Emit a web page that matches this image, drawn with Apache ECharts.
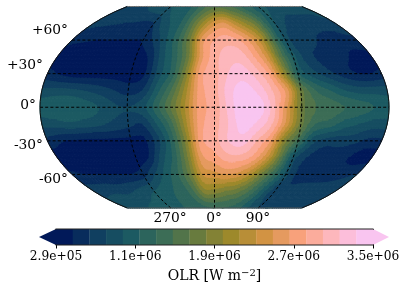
<!DOCTYPE html>
<html>
<head>
<meta charset="utf-8">
<style>html,body{margin:0;padding:0;background:#fff}#c{width:407px;height:290px}</style>
<script src="https://cdn.jsdelivr.net/npm/echarts@6/dist/echarts.min.js"></script>
</head>
<body>
<div id="c"></div>
<script>
// Grid of the map, degrees
const lons = [-180,-165,-150,-135,-120,-105,-90,-75,-60,-45,-30,-15,0,15,30,45,60,75,90,105,120,135,150,165,180];
const lats = [90,75,60,45,30,15,0,-15,-30,-45,-60,-75,-90];

// OLR, as a position on the colour bar (1 = one colour step)
const lat_p90 = [2,2.1,2.3,2.5,2.8,3.2,3.5,3.8,4,4.5,5.5,6.5,7,7,6.5,6,5,4.5,4,3.5,3,2.9,2.8,2.8,2.8];
const lat_p75 = [1.8,1.7,1.6,1.5,1.4,1.2,1.5,3,3.8,5,7.5,10,12,12.5,11,9.5,8,5.5,3.5,2.5,2,2,2,2,2.3];
const lat_p60 = [.7,.6,.5,.5,.5,.5,.6,1.8,3.5,5.5,8.5,13,14.5,15,14.5,13,10.5,6.5,3,2,1.8,1.3,1,1,1.2];
const lat_p45 = [.3,.1,0,0,0,0,0,.6,3,5,8,13,15,16,16,14.5,12,7.5,4,2,1.3,.9,.6,.2,.2];
const lat_p30 = [.8,.3,0,0,0,0,0,.4,3,5,9,14,15,16.5,17,16,14,9.5,4.5,3,2,1.2,.6,.4,.8];
const lat_p15 = [2.7,2.8,2.7,2.4,2,1.5,1,1.5,4,6.5,10,14,15,17,18,17.2,15.5,13,8,5.5,4.5,3.5,3,3,3];
const lat_000 = [4,4.3,4.5,4,3.5,2.7,2.5,3,5,7.5,10.5,14,14.8,16.8,18.4,18.2,16,12.5,8,6.5,6,5.5,5,4.5,4];
const lat_m15 = [2.8,3,3.2,3,2.7,2.2,1.8,1.5,3.5,6,10,14,15,16.5,18,17.2,15.5,12,8,5.5,5,4,3.5,3,3];
const lat_m30 = [1.2,.6,.3,.2,.2,.2,.2,.3,2.2,5,9,14,15,16.5,17,15.5,13.5,9,6,3,2,2,1.8,1.2,1.2];
const lat_m45 = [.1,0,0,0,0,0,0,.5,3,5,8.5,13,14,15,15,14,11.5,7.5,3,1.5,1,.9,.6,.1,.1];
const lat_m60 = [.7,.5,.5,.5,.5,.5,1,2.5,4,5.5,8,11.5,12,12.5,12,10.5,8,5.5,3,1.2,1,1,1,1.2,1.5];
const lat_m75 = [2,2.2,2.3,2.2,2.5,3,3.5,4,4.5,5,6.5,9,9,8.5,8,7,5.5,3.5,1.8,1.8,2,2,2,2,2];
const lat_m90 = [3,3.1,3.2,3.5,3.7,3.8,4,4.2,4.5,4.7,5,5.2,5.5,5.5,5.3,5,4,3,2.5,2.5,2.5,2.3,2.2,2,2];
const rows = [lat_p90,lat_p75,lat_p60,lat_p45,lat_p30,lat_p15,lat_000,lat_m15,lat_m30,lat_m45,lat_m60,lat_m75,lat_m90];

// Colour scale
const olrMin = 2.9e5, olrMax = 3.5e6;
const bandColors = ['#011959','#082C5C','#103F60','#164D61','#1C5A62','#2C645C','#3C6D56','#52744A','#687B3E','#838235','#9D892B','#B88E37','#D29343','#E59A5F','#F8A17B','#FBAC9C','#FDB7BC','#FCBEDA','#F9C5F0'];
const tickValues = [2.9e5,1.0925e6,1.895e6,2.6975e6,3.5e6];
const tickLabels = ['2.9e+05','1.1e+06','1.9e+06','2.7e+06','3.5e+06'];

// Graticule and its labels
const gridLats = [60,30,0,-30,-60];
const gridLons = [-90,0,90];
const latLabels = [['+60°',60],['+30°',30],['0°',0],['-30°',-30],['-60°',-60]];
const lonLabels = [['270°',-90],['0°',0],['90°',90]];

const step = (olrMax-olrMin)/bandColors.length;
const toOlr = l => olrMin + (l+0.5)*step;
const olrRows = rows.map(r=>r.map(toOlr));

// Kavrayskiy VII, normalised to -1..1 in both directions
function kav7(lon,lat){
  const f = lat/180;
  return [lon/180*Math.sqrt(1-3*f*f), lat/90];
}

function cr(a,b,c,d,t){
  return 0.5*((2*b)+(-a+c)*t+(2*a-5*b+4*c-d)*t*t+(-a+3*b-3*c+d)*t*t*t);
}
function sample(rf,cf){
  const nr=rows.length,nc=lons.length;
  const r0=Math.min(Math.floor(rf),nr-2),c0=Math.min(Math.floor(cf),nc-2);
  const tr=rf-r0,tc=cf-c0,v=[];
  for(let k=-1;k<=2;k++){
    const R=olrRows[Math.max(0,Math.min(nr-1,r0+k))];
    const g=i=>R[Math.max(0,Math.min(nc-1,c0+i))];
    v.push(cr(g(-1),g(0),g(1),g(2),tc));
  }
  return cr(v[0],v[1],v[2],v[3],tr);
}
function clip(poly,limit,keepAbove){
  const out=[],n=poly.length;
  const inside=p=>keepAbove?p[2]>=limit:p[2]<=limit;
  for(let i=0;i<n;i++){
    const a=poly[i],b=poly[(i+1)%n],ia=inside(a),ib=inside(b);
    if(ia) out.push(a);
    if(ia!==ib){
      const t=(limit-a[2])/(b[2]-a[2]);
      out.push([a[0]+(b[0]-a[0])*t,a[1]+(b[1]-a[1])*t,limit]);
    }
  }
  return out;
}
const SUB=4;
function renderCell(params,api){
  const c=api.value(0),r=api.value(1),children=[];
  for(let i=0;i<SUB;i++)for(let j=0;j<SUB;j++){
    const pts=[[i,j],[i+1,j],[i+1,j+1],[i,j+1]].map(q=>{
      const cf=c+q[0]/SUB,rf=r+q[1]/SUB;
      return [-180+cf*15,90-rf*15,sample(rf,cf)];
    });
    const vs=pts.map(p=>p[2]);
    const vmin=Math.min.apply(null,vs),vmax=Math.max.apply(null,vs);
    bandColors.forEach((col,b)=>{
      const lo=b===0?-Infinity:olrMin+b*step;
      const hi=b===bandColors.length-1?Infinity:olrMin+(b+1)*step;
      if(vmax<lo||vmin>hi)return;
      let poly=pts;
      if(isFinite(lo))poly=clip(poly,lo,true);
      if(poly.length&&isFinite(hi))poly=clip(poly,hi,false);
      if(poly.length<3)return;
      children.push({type:'polygon',shape:{points:poly.map(p=>api.coord(kav7(p[0],p[1])))},
        style:{fill:col,stroke:col,lineWidth:1}});
    });
  }
  return {type:'group',children:children};
}
const cells=[];
for(let c=0;c<lons.length-1;c++)for(let r=0;r<lats.length-1;r++)cells.push([c,r]);

function parallel(lat){const o=[];for(let l=-180;l<=180;l+=5)o.push(kav7(l,lat));return o;}
function meridian(lon){const o=[];for(let l=-90;l<=90;l+=5)o.push(kav7(lon,l));return o;}
const dash={color:'#000',width:1,type:[3,2.2]};
const lineBase={type:'line',xAxisIndex:0,yAxisIndex:0,showSymbol:false,symbol:'none',silent:true,animation:false,clip:false,z:5};
const gratSeries=gridLats.map(l=>Object.assign({},lineBase,{data:parallel(l),lineStyle:dash}))
  .concat(gridLons.map(l=>Object.assign({},lineBase,{data:meridian(l),lineStyle:dash})));
const outlineSeries=[
  Object.assign({},lineBase,{z:6,data:meridian(-180),lineStyle:{color:'#111',width:1}}),
  Object.assign({},lineBase,{z:6,data:meridian(180),lineStyle:{color:'#111',width:1}}),
  Object.assign({},lineBase,{z:6,data:parallel(90),lineStyle:{color:'#777',width:1}}),
  Object.assign({},lineBase,{z:6,data:parallel(-90),lineStyle:{color:'#555',width:1}})
];

const cbarBands=bandColors.map((c,i)=>[olrMin+i*step,olrMin+(i+1)*step,i]);
const tipL=olrMin-17/317*(olrMax-olrMin), tipR=olrMax+16/317*(olrMax-olrMin);
function renderBar(params,api){
  const i=api.value(2),x0=api.value(0),x1=api.value(1);
  const a=api.coord([x0,0]),b=api.coord([x1,1]);
  const col=bandColors[i];
  const kids=[{type:'rect',shape:{x:a[0],y:b[1],width:b[0]-a[0]+0.3,height:a[1]-b[1]},style:{fill:col}}];
  if(i===0)kids.push({type:'polygon',shape:{points:[api.coord([tipL,0.5]),api.coord([x0,1]),api.coord([x0,0])]},style:{fill:col}});
  if(i===bandColors.length-1)kids.push({type:'polygon',shape:{points:[api.coord([tipR,0.5]),api.coord([x1,1]),api.coord([x1,0])]},style:{fill:col}});
  return {type:'group',children:kids};
}
const outlinePts=[[olrMin,0],[tipL,0.5],[olrMin,1],[olrMax,1],[tipR,0.5],[olrMax,0],[olrMin,0]];

const chart=echarts.init(document.getElementById('c'),null,{renderer:'canvas'});
const serif='"DejaVu Serif"';
const gfx=[];
const latX={60:68,30:43,0:36,'-30':43,'-60':68};
const latY={60:30,30:65,0:105,'-30':145,'-60':179};
latLabels.forEach(l=>gfx.push({type:'text',z:10,style:{x:latX[l[1]],y:latY[l[1]],text:l[0],textAlign:'right',textVerticalAlign:'middle',font:'13.8px '+serif,fill:'#000'}}));
const lonX={'-90':170,0:214,90:258};
lonLabels.forEach(l=>gfx.push({type:'text',z:10,style:{x:lonX[l[1]],y:218,text:l[0],textAlign:'center',textVerticalAlign:'middle',font:'13.8px '+serif,fill:'#000'}}));

chart.setOption({
  animation:false,
  backgroundColor:'#fff',
  graphic:gfx,
  grid:[
    {left:40,top:6.5,width:349,height:201.5,show:false},
    {left:56,top:229,width:317,height:16,show:false}
  ],
  xAxis:[
    {gridIndex:0,type:'value',min:-1,max:1,show:false},
    {gridIndex:1,type:'value',min:olrMin,max:olrMax,
      axisLine:{show:false},splitLine:{show:false},
      axisTick:{show:true,length:3.5,customValues:tickValues,lineStyle:{color:'#000',width:1}},
      axisLabel:{show:true,customValues:tickValues,margin:6,color:'#000',fontFamily:'DejaVu Serif',fontSize:12.2,
        formatter:v=>tickLabels[tickValues.indexOf(v)]},
      name:'{a|OLR [W m}{s|−2}{a|]}',nameLocation:'middle',nameGap:23,
      nameTextStyle:{rich:{a:{fontFamily:'DejaVu Serif',fontSize:14,color:'#000'},s:{fontFamily:'DejaVu Serif',fontSize:10,color:'#000',verticalAlign:'top',padding:[0,0,6,0]}}}}
  ],
  yAxis:[
    {gridIndex:0,type:'value',min:-1,max:1,show:false},
    {gridIndex:1,type:'value',min:0,max:1,show:false}
  ],
  series:[
    {type:'custom',xAxisIndex:0,yAxisIndex:0,data:cells,renderItem:renderCell,silent:true,animation:false,progressive:0,clip:false,z:1,encode:{x:0,y:1}}
  ].concat(gratSeries,outlineSeries,[
    {type:'custom',xAxisIndex:1,yAxisIndex:1,data:cbarBands,renderItem:renderBar,silent:true,animation:false,progressive:0,clip:false,z:1,encode:{x:[0,1]}},
    {type:'line',xAxisIndex:1,yAxisIndex:1,data:outlinePts,showSymbol:false,symbol:'none',silent:true,animation:false,clip:false,z:5,lineStyle:{color:'#222',width:1}}
  ])
});
</script>
</body>
</html>
